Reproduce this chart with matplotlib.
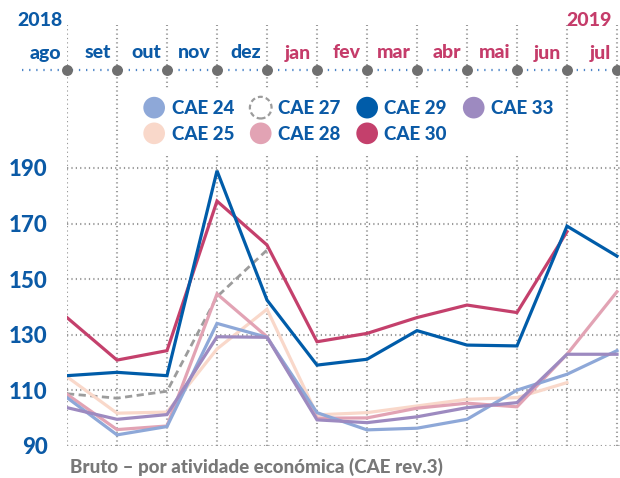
import numpy as np
import matplotlib
matplotlib.use("Agg")
import matplotlib.pyplot as plt
import matplotlib.transforms as mtransforms
from matplotlib.patches import Circle
from matplotlib.legend_handler import HandlerPatch

# ---------------- data ----------------
months = ["ago", "set", "out", "nov", "dez", "jan", "fev", "mar", "abr", "mai", "jun", "jul"]
month_year = [2018] * 5 + [2019] * 7
nan = np.nan
cae24 = [107.4, 94.0, 97.0, 134.1, 129.1, 102.0, 95.8, 96.4, 99.6, 110.1, 115.8, 124.3]
cae25 = [114.9, 101.8, 102.2, 124.9, 139.2, 101.2, 102.0, 104.4, 106.8, 107.4, 112.8, nan]
cae27 = [108.8, 107.2, 109.7, 143.7, 160.5, nan, nan, nan, nan, nan, nan, nan]
cae28 = [108.6, 95.9, 97.2, 144.7, 129.3, 100.0, 100.1, 103.6, 105.4, 104.1, 123.0, 145.5]
cae29 = [115.3, 116.5, 115.3, 189.0, 142.5, 119.1, 121.2, 131.5, 126.3, 126.0, 169.1, 158.3]
cae30 = [136.2, 120.9, 124.3, 178.1, 162.3, 127.5, 130.5, 136.2, 140.7, 138.0, 167.1, nan]
cae33 = [103.8, 99.6, 101.3, 129.3, 129.1, 99.4, 98.4, 100.5, 103.8, 105.6, 123.0, 123.0]
yticks = [90, 110, 130, 150, 170, 190]
caption = "Bruto – por atividade económica (CAE rev.3)"

# ---------------- style ----------------
plt.rcParams['font.family'] = ['Lato', 'DejaVu Sans']
WEIGHT = "black"
BLUE_TXT = "#0b5aa6"
RED_TXT = "#c53c6a"
GRID = "#9a9a9a"
series = [
    ("CAE 24", cae24, "#8ea8d8", "-"),
    ("CAE 25", cae25, "#f9d8ca", "-"),
    ("CAE 27", cae27, "#9c9c9c", "--"),
    ("CAE 28", cae28, "#e2a3b4", "-"),
    ("CAE 29", cae29, "#005ca9", "-"),
    ("CAE 30", cae30, "#c4406c", "-"),
    ("CAE 33", cae33, "#9d8ac0", "-"),
]
draw_order = ["CAE 27", "CAE 25", "CAE 28", "CAE 24", "CAE 33", "CAE 30", "CAE 29"]

W, H = 620, 478
fig = plt.figure(figsize=(W / 100, H / 100), dpi=100)
ax_left, ax_right, ax_top, ax_bot = 67, 620, 25, 446
ax = fig.add_axes([ax_left / W, 1 - ax_bot / H, (ax_right - ax_left) / W, (ax_bot - ax_top) / H])

x = np.arange(len(months))
px_per_unit = 2.78
ytop = 90 + (ax_bot - ax_top) / px_per_unit
ax.set_ylim(90, ytop)
ax.set_xlim(0, (ax_right - ax_left) / 50.0)

for name in draw_order:
    lab, vals, col, ls = [s for s in series if s[0] == name][0]
    if ls == "--":
        ax.plot(x, vals, color=col, lw=2.0, ls=(0, (2.6, 1.6)), zorder=3)
    else:
        ax.plot(x, vals, color=col, lw=2.3, ls=ls, zorder=3, solid_joinstyle="miter")

# grid
ax.set_xticks(x)
ax.set_xticklabels([])
ax.set_yticks(yticks)
ax.set_yticklabels([str(v) for v in yticks], fontsize=16, fontweight=WEIGHT, color=BLUE_TXT)
ax.tick_params(axis="both", length=0)
ax.tick_params(axis="y", pad=14)
ax.grid(True, color=GRID, lw=1.5, ls=(0, (0.6, 1.5)))
ax.set_axisbelow(True)
for sp in ax.spines.values():
    sp.set_visible(False)

# header timeline
trans = mtransforms.blended_transform_factory(ax.transData, ax.transAxes)
h = ax_bot - ax_top
y_line = 1 - 45 / h
y_month = 1 - 28 / h
y_year = 1 + 4 / h
ax.plot([(22 - ax_left) / 50.0, (ax_right - ax_left) / 50.0], [y_line, y_line], transform=trans,
        color="#4d85c8", lw=1.6, ls=(0, (0.6, 2.6)), clip_on=False, zorder=2)
ax.scatter(x, [y_line] * len(x), transform=trans, s=62, color="#6f6f6f", zorder=4, clip_on=False,
           linewidths=0)
for i, m in enumerate(months):
    col = BLUE_TXT if month_year[i] == 2018 else RED_TXT
    ax.annotate(m, xy=(i, y_month), xycoords=trans, xytext=(-4.5, 0), textcoords="offset points",
                ha="right", va="center", fontsize=14, fontweight=WEIGHT, color=col)
ax.annotate("2018", xy=(0, y_year), xycoords=trans, xytext=(-3.5, 0), textcoords="offset points",
            ha="right", va="center", fontsize=14, fontweight=WEIGHT, color=BLUE_TXT, annotation_clip=False)
ax.annotate("2019", xy=(len(x) - 1, y_year), xycoords=trans, xytext=(-3.5, 0), textcoords="offset points",
            ha="right", va="center", fontsize=14, fontweight=WEIGHT, color=RED_TXT, annotation_clip=False)

# legend with circle handles
def make_circle(legend, orig_handle, xdescent, ydescent, width, height, fontsize):
    return Circle((width / 2 - xdescent, height / 2 - ydescent), 7.8)

order = ["CAE 24", "CAE 25", "CAE 27", "CAE 28", "CAE 29", "CAE 30", "CAE 33"]
handles, labels = [], []
for name in order:
    lab, vals, col, ls = [s for s in series if s[0] == name][0]
    if ls == "--":
        p = Circle((0, 0), 1, facecolor="none", edgecolor=col, lw=1.6, ls=(0, (2.2, 1.4)))
    else:
        p = Circle((0, 0), 1, facecolor=col, edgecolor="none", lw=0)
    handles.append(p)
    labels.append(lab)
leg = ax.legend(handles, labels, ncol=4, loc="center", bbox_to_anchor=(348 / W, 1 - 121 / H),
                bbox_transform=fig.transFigure, frameon=True, fancybox=False,
                prop={"weight": WEIGHT, "size": 13.5}, handlelength=1.25, handleheight=1.0,
                handletextpad=0.3, columnspacing=0.8, labelspacing=0.42, borderpad=0.6,
                borderaxespad=0, handler_map={Circle: HandlerPatch(patch_func=make_circle)})
leg.get_frame().set_facecolor("white")
leg.get_frame().set_edgecolor("none")
leg.get_frame().set_alpha(1)
for t in leg.get_texts():
    t.set_color(BLUE_TXT)

fig.text(70 / W, 1 - 467 / H, caption, ha="left", va="center", fontsize=13.5, fontweight=WEIGHT,
         color="#787878")

fig.savefig("out.png", dpi=100)
